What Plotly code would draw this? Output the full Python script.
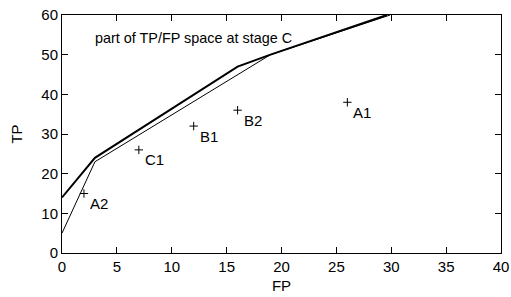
import plotly.graph_objects as go

# thick (upper) hull
hull_fp = [0, 3, 16, 19, 29.6]
hull_tp = [14, 24, 47, 50, 60]
# thin (lower) hull
hull2_fp = [0, 3, 19, 29.9]
hull2_tp = [5, 23, 50, 60]
# points
pt_names = ["A2", "C1", "B1", "B2", "A1"]
pt_fp = [2, 7, 12, 16, 26]
pt_tp = [15, 26, 32, 36, 38]

x_ticks = [0, 5, 10, 15, 20, 25, 30, 35, 40]
y_ticks = [0, 10, 20, 30, 40, 50, 60]

FONT = "Liberation Sans, Arial, sans-serif"

fig = go.Figure()
fig.add_trace(go.Scatter(x=hull_fp, y=hull_tp, mode="lines",
                         line=dict(color="black", width=2), showlegend=False))
fig.add_trace(go.Scatter(x=hull2_fp, y=hull2_tp, mode="lines",
                         line=dict(color="black", width=1), showlegend=False))
fig.add_trace(go.Scatter(x=pt_fp, y=pt_tp, mode="markers",
                         marker=dict(symbol="cross-thin", size=6,
                                     line=dict(color="black", width=1)),
                         showlegend=False))
for n, x, y in zip(pt_names, pt_fp, pt_tp):
    fig.add_annotation(x=x, y=y, text=n, showarrow=False, xanchor="left",
                       yanchor="middle", xshift=4, yshift=-10,
                       font=dict(family=FONT, size=15, color="black"))
fig.add_annotation(x=2.85, y=54.2, text="part of TP/FP space at stage C", showarrow=False,
                   xanchor="left", yanchor="middle",
                   font=dict(family=FONT, size=14.4, color="black"))

axis_common = dict(showgrid=False, zeroline=False, showline=True, linecolor="black",
                   linewidth=1, mirror="allticks", ticks="inside", ticklen=6,
                   tickcolor="black", automargin=False, ticklabeloverflow="allow",
                   tickfont=dict(family=FONT, size=15, color="black"))
fig.update_xaxes(range=[0, 40], tickvals=x_ticks, ticktext=[str(v) for v in x_ticks],
                 title=dict(text="FP", font=dict(family=FONT, size=15, color="black"), standoff=6),
                 **axis_common)
fig.update_yaxes(range=[0, 60], tickvals=y_ticks, ticktext=[str(v) for v in y_ticks],
                 title=dict(text="TP", font=dict(family=FONT, size=15, color="black"), standoff=15),
                 **axis_common)
fig.update_layout(width=511, height=297, margin=dict(l=62, r=10, t=15, b=44),
                  plot_bgcolor="white", paper_bgcolor="white")
fig.write_html("out.html", config={"displayModeBar": False},
               post_script="document.body.style.margin='0';document.body.style.overflow='hidden';")
